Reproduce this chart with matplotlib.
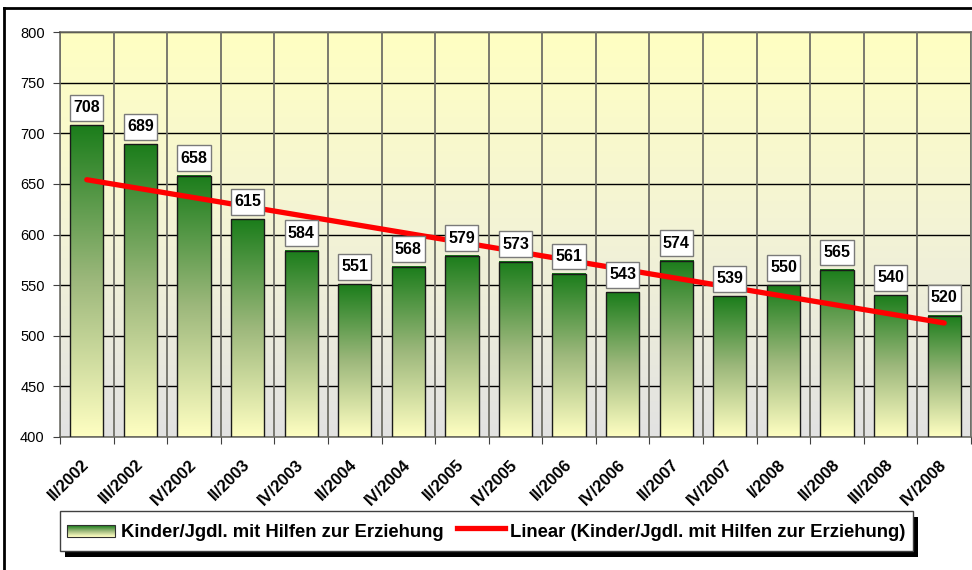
import numpy as np
import matplotlib
matplotlib.use("Agg")
import matplotlib.pyplot as plt
from matplotlib.patches import Rectangle
from matplotlib.lines import Line2D
from matplotlib.path import Path
from matplotlib.legend_handler import HandlerBase
from matplotlib.colors import LinearSegmentedColormap
from matplotlib.transforms import IdentityTransform

plt.rcParams['font.family'] = ['Liberation Sans', 'DejaVu Sans']

categories = ["II/2002", "III/2002", "IV/2002", "II/2003", "IV/2003", "II/2004", "IV/2004",
              "II/2005", "IV/2005", "II/2006", "IV/2006", "II/2007", "IV/2007", "I/2008",
              "II/2008", "III/2008", "IV/2008"]
values = [708, 689, 658, 615, 584, 551, 568, 579, 573, 561, 543, 574, 539, 550, 565, 540, 520]
yticks = [400, 450, 500, 550, 600, 650, 700, 750, 800]
series_name = "Kinder/Jgdl. mit Hilfen zur Erziehung"
trend_name = "Linear (Kinder/Jgdl. mit Hilfen zur Erziehung)"

W, H = 972, 570
fig = plt.figure(figsize=(W / 100, H / 100), dpi=100)
fig.patch.set_facecolor('white')

ax = fig.add_axes([60 / W, (H - 437) / H, 911 / W, 405 / H])
ymin, ymax = 400, 800
n = len(categories)
x = np.arange(n)
ax.set_xlim(-0.5, n - 0.5)
ax.set_ylim(ymin, ymax)

# background gradient
bg = LinearSegmentedColormap.from_list('bg', ['#E2E2E2', '#F3F3D6', '#FFFFC2'])
grad = np.linspace(0, 1, 256).reshape(-1, 1)
ax.imshow(grad, cmap=bg, origin='lower', extent=[0, 1, 0, 1], transform=ax.transAxes,
          aspect='auto', zorder=0)

# gridlines
for yv in yticks:
    ax.axhline(yv, color='black', lw=1.0, zorder=1)
for b in np.arange(n + 1) - 0.5:
    ax.axvline(b, color='#707068', lw=1.3, zorder=1)

# bars with gradient
barcm = LinearSegmentedColormap.from_list('bar', ['#FFFFC2', '#9DB87C', '#1B7D1B'])
bw = 0.62
bars = ax.bar(x, [v - ymin for v in values], bottom=ymin, width=bw, color='none',
              edgecolor='#1a1a1a', lw=1.0, zorder=3)
for xi, v in zip(x, values):
    ax.imshow(grad, cmap=barcm, origin='lower', extent=[xi - bw / 2, xi + bw / 2, ymin, v],
              aspect='auto', zorder=2)

# trend line
coef = np.polyfit(x, values, 1)
trend = np.polyval(coef, x)
ax.plot(x, trend, color='#FF0000', lw=3.8, solid_capstyle='round', zorder=4)


def label_box(x0, y0, width, height, mutation_size):
    px = 0.2 * mutation_size
    py = 0.34 * mutation_size
    xa, xb = x0 - px, x0 + width + px
    ya, yb = y0 - py, y0 + height + py
    return Path([(xa, ya), (xb, ya), (xb, yb), (xa, yb), (xa, ya)], closed=True)


# data labels
for xi, v in zip(x, values):
    ax.annotate(str(v), (xi, v), xytext=(0, 7.2), textcoords='offset points',
                ha='center', va='bottom', fontsize=11.5, fontweight='bold', zorder=6,
                bbox=dict(boxstyle=label_box, fc='white', ec='#7a7a7a', lw=1.0))

ax.set_yticks(yticks)
ax.set_yticklabels([str(t) for t in yticks], fontsize=10.5)
ax.set_xticks(np.arange(n + 1) - 0.5)
ax.set_xticklabels([])
ax.set_xticks(x, minor=True)
ax.set_xticklabels(categories, minor=True, rotation=45, ha='right', va='center',
                   rotation_mode='anchor', fontsize=12, fontweight='bold')
ax.tick_params(axis='x', which='major', length=5, color='#404040', direction='out')
ax.tick_params(axis='x', which='minor', length=0, pad=18)
ax.tick_params(axis='y', length=5, color='#404040', pad=6)
for s in ax.spines.values():
    s.set_color('#707068')
    s.set_linewidth(1.2)
ax.set_axisbelow(False)


class HandlerGradient(HandlerBase):
    def create_artists(self, legend, orig_handle, xdescent, ydescent, width, height,
                       fontsize, trans):
        h = 0.66 * fontsize
        y0 = -ydescent + height / 2 - h / 2
        arts = []
        ns = 12
        for i in range(ns):
            c = barcm(i / (ns - 1))
            arts.append(Rectangle((-xdescent, y0 + h * i / ns), width, h / ns + 0.3,
                                  fc=c, ec='none', transform=trans))
        arts.append(Rectangle((-xdescent, y0), width, h, fc='none', ec='#303030', lw=0.8,
                              transform=trans))
        return arts


h_bar = Rectangle((0, 0), 1, 1)
h_line = Line2D([0], [0], color='#FF0000', lw=3.8)
leg = fig.legend([h_bar, h_line], [series_name, trend_name], loc='upper left',
                 bbox_to_anchor=(60 / W, 1 - 511 / H), bbox_transform=fig.transFigure,
                 ncol=2, frameon=True, fancybox=False, shadow=False, framealpha=1,
                 prop=dict(size=13.3, weight='bold'), borderaxespad=0,
                 handlelength=2.6, handleheight=1.75, handletextpad=0.3, columnspacing=0.7,
                 borderpad=0.4, handler_map={Rectangle: HandlerGradient()})
leg.get_frame().set_edgecolor('#404040')
leg.get_frame().set_facecolor('white')
leg.get_frame().set_linewidth(1.0)
leg.set_zorder(5)

fig.canvas.draw()
bb = leg.get_window_extent()
sh = Rectangle((bb.x0 + 5, bb.y0 - 6), bb.width, bb.height, transform=IdentityTransform(),
               fc='black', ec='none', zorder=4)
fig.patches.append(sh)

# outer chart border
fig.add_artist(Line2D([4 / W, 4 / W], [0, 1 - 8 / H], color='black', lw=2,
                      transform=fig.transFigure))
fig.add_artist(Line2D([4 / W, 1], [1 - 8 / H, 1 - 8 / H], color='black', lw=2,
                      transform=fig.transFigure))

fig.savefig('out.png', dpi=100)
